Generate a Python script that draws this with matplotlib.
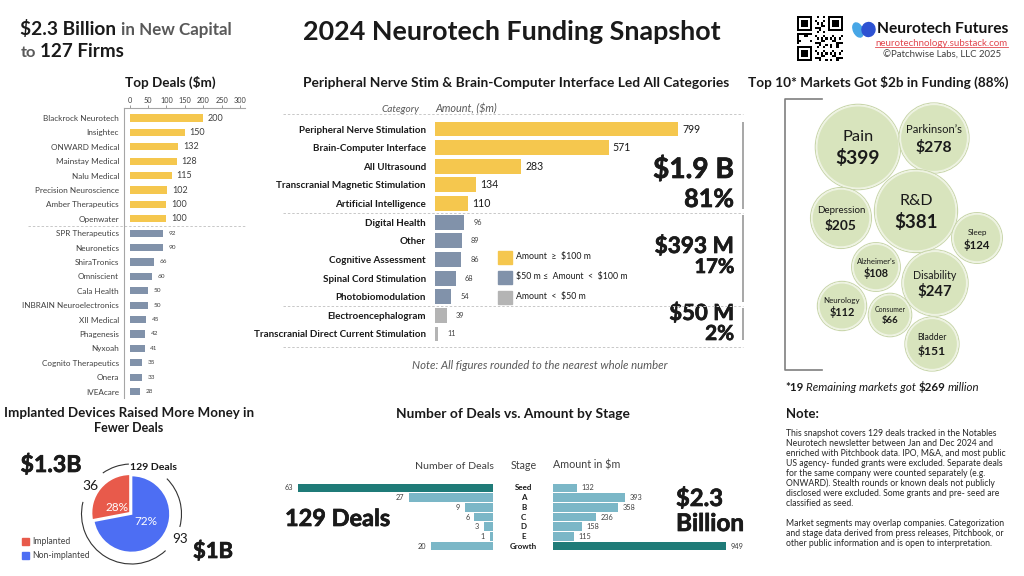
import numpy as np
import matplotlib.pyplot as plt
import matplotlib.patheffects as pe
from matplotlib.patches import Circle, Rectangle, Arc, Ellipse
from matplotlib import transforms

plt.rcParams['font.family'] = ['Lato', 'DejaVu Sans']

W, H = 1024, 576

# ---- data ----
deal_firms = ["Blackrock Neurotech", "Insightec", "ONWARD Medical", "Mainstay Medical",
              "Nalu Medical", "Precision Neuroscience", "Amber Therapeutics", "Openwater",
              "SPR Therapeutics", "Neuronetics", "ShiraTronics", "Omniscient", "Cala Health",
              "INBRAIN Neuroelectronics", "XII Medical", "Phagenesis", "Nyxoah",
              "Cognito Therapeutics", "Onera", "IVEAcare"]
deal_amounts = [200, 150, 132, 128, 115, 102, 100, 100, 92, 90, 66, 60, 50, 50, 45, 42, 41, 35, 33, 28]
deal_ticks = [0, 50, 100, 150, 200, 250, 300]

categories = ["Peripheral Nerve Stimulation", "Brain-Computer Interface", "All Ultrasound",
              "Transcranial Magnetic Stimulation", "Artificial Intelligence", "Digital Health",
              "Other", "Cognitive Assessment", "Spinal Cord Stimulation", "Photobiomodulation",
              "Electroencephalogram", "Transcranial Direct Current Stimulation"]
cat_amounts = [799, 571, 283, 134, 110, 96, 89, 86, 68, 54, 39, 11]
tier_labels = ["Amount  \u2265  \\$100 m", "\\$50 m \u2264  Amount  <  \\$100 m", "Amount  <  \\$50 m"]

markets = ["Pain", "Parkinson\u2019s", "R&D", "Depression", "Sleep", "Alzheimer\u2019s",
           "Disability", "Neurology", "Consumer", "Bladder"]
market_amounts = [399, 278, 381, 205, 124, 108, 247, 112, 66, 151]
other_markets = 19
other_amount = 269

device_groups = ["Implanted", "Non-implanted"]
device_share = [28, 72]
device_deals = [36, 93]
device_money = ["$1.3B", "$1B"]

stages = ["Seed", "A", "B", "C", "D", "E", "Growth"]
stage_deals = [63, 27, 9, 6, 3, 1, 20]
stage_amounts = [132, 393, 358, 236, 158, 115, 949]

note_lines = [
    "This snapshot covers 129 deals tracked in the Notables",
    "Neurotech newsletter between Jan and Dec 2024 and",
    "enriched with Pitchbook data. IPO, M&A, and most public",
    "US agency- funded grants were excluded. Separate deals",
    "for the same company were counted separately (e.g.",
    "ONWARD). Stealth rounds or known deals not publicly",
    "disclosed were excluded. Some grants and pre- seed are",
    "classified as seed.",
    "",
    "Market segments may overlap companies. Categorization",
    "and stage data derived from press releases, Pitchbook, or",
    "other public information and is open to interpretation.",
]

YELLOW = '#f5c74e'
SLATE = '#8192aa'
GREY = '#b4b4b4'
TEAL = '#1f7b78'
LTEAL = '#7bb7c7'
DARK = '#1a1a1a'
MID = '#404040'
RED = '#e85a4b'
BLUE = '#4d6ef3'
BUBBLE = '#d8e4bd'
THICK = [pe.withStroke(linewidth=0.5, foreground=DARK)]

fig = plt.figure(figsize=(10.24, 5.76), dpi=100)
renderer = fig.canvas.get_renderer()
bg = fig.add_axes([0, 0, 1, 1])
bg.set_xlim(0, W)
bg.set_ylim(H, 0)
bg.axis('off')


def put(x, y, s, size=8, width=None, **kw):
    kw.setdefault('va', 'baseline')
    kw.setdefault('color', DARK)
    t = bg.text(x, y, s, fontsize=size, **kw)
    if width:
        w = t.get_window_extent(renderer).width
        t.set_fontsize(size * width / w)
    return t


def big_num(x, y, s, width, **kw):
    return put(x, y, s, 20, width=width, fontweight='bold', path_effects=THICK, **kw)


def right_edge(t):
    ext = t.get_window_extent(renderer)
    return bg.transData.inverted().transform((ext.x1, ext.y0))[0]


def px_axes(left, top, right, bottom):
    a = fig.add_axes([left / W, 1 - bottom / H, (right - left) / W, (bottom - top) / H])
    a.patch.set_alpha(0)
    return a


# ---- header ----
t = put(20.5, 35, "$2.3 Billion", 14, width=97, fontweight='bold')
put(right_edge(t) + 4, 35, "in New Capital", 11, width=111, fontweight='bold', color='#595959')
t = put(20.5, 57, "to", 11, width=15.5, fontweight='bold', color='#595959')
put(right_edge(t) + 4, 57, "127 Firms", 14, width=84.5, fontweight='bold')
put(303, 40.5, "2024 Neurotech Funding Snapshot", 19, width=417, fontweight='bold')

# QR code (decoration)
n = 21
qr = np.zeros((n, n))
for i in range(n):
    for j in range(n):
        qr[i, j] = 1 if (i * 3 + j * 5 + (i * j) % 7) % 3 == 0 else 0
for (r0, c0) in [(0, 0), (0, n - 7), (n - 7, 0)]:
    qr[max(r0 - 1, 0):r0 + 8, max(c0 - 1, 0):c0 + 8] = 0
    qr[r0:r0 + 7, c0:c0 + 7] = 1
    qr[r0 + 1:r0 + 6, c0 + 1:c0 + 6] = 0
    qr[r0 + 2:r0 + 5, c0 + 2:c0 + 5] = 1
bg.imshow(qr, cmap='gray_r', extent=(797, 843, 61, 16), aspect='auto', interpolation='nearest')
bg.set_xlim(0, W)
bg.set_ylim(H, 0)

# logo
bg.add_patch(Ellipse((858, 30), 9, 15, angle=-25, color='#47a6e6'))
bg.add_patch(Ellipse((868.5, 29.5), 13, 14, angle=10, color='#2d52d2'))
put(877, 33, "Neurotech Futures", 11, width=131, fontweight='bold', color='#111111')
put(875, 45.5, "neurotechnology.substack.com", 7, width=133, color='#e2474f')
bg.plot([875, 1008], [47, 47], color='#e2474f', lw=0.6)
put(883, 58, "\u00a9Patchwise Labs, LLC 2025", 7, width=119, color=MID)

# ---- Top deals ----
put(170.5, 87, "Top Deals ($m)", 9, width=90, fontweight='bold', ha='center')
ax = px_axes(124, 108, 245, 398)
y = np.arange(len(deal_firms))
big = [v >= 100 for v in deal_amounts]
ax.barh(y, deal_amounts, height=0.5, color=[YELLOW if b else SLATE for b in big])
ax.set_xlim(-15, 313.6)
ax.set_ylim(len(deal_firms) - 0.55, -0.7)
ax.xaxis.tick_top()
ax.set_xticks(deal_ticks)
ax.tick_params(axis='x', labelsize=5.3, length=2.2, width=0.6, color='#8c8c8c', pad=0.8,
               labelcolor=MID)
ax.set_yticks(y, deal_firms)
ax.tick_params(axis='y', length=0, labelsize=5.9, pad=3.6, labelcolor=MID)
for s in ['right', 'bottom']:
    ax.spines[s].set_visible(False)
for s in ['top', 'left']:
    ax.spines[s].set_color('#a6a6a6')
    ax.spines[s].set_linewidth(0.8)
for yi, v, b in zip(y, deal_amounts, big):
    ax.annotate(str(v), (v, yi), xytext=(3.5 if b else 4, 0), textcoords='offset points',
                va='center', fontsize=6.5 if b else 4.6, color=MID)
ax.axhline(7.5, xmin=(28 - 124) / 121, xmax=1.0, ls=(0, (2.5, 2)), color='#c8c8c8', lw=0.7,
           clip_on=False)

# ---- Categories ----
put(303, 87, "Peripheral Nerve Stim & Brain-Computer Interface Led All Categories", 8.5,
    width=424, fontweight='bold')
put(419, 112, "Category", 7, width=38, ha='right', style='italic', color='#595959')
put(435, 112, "Amount, ($m)", 7, width=62, style='italic', color='#595959')

ax = px_axes(435, 114, 743, 347)
y = np.arange(len(categories))
tier = [0 if v >= 100 else (1 if v >= 50 else 2) for v in cat_amounts]
tier_colors = [YELLOW, SLATE, GREY]
ax.barh(y, cat_amounts, height=0.8, color=[tier_colors[k] for k in tier])
ax.set_xlim(0, 1012.8)
ax.set_ylim(11.7, -0.806)
ax.set_yticks(y, categories, fontweight='bold')
ax.tick_params(axis='y', length=0, labelsize=7.1, pad=6.6, labelcolor=DARK)
ax.set_xticks([])
for s in ax.spines.values():
    s.set_visible(False)
for yi, v, k in zip(y, cat_amounts, tier):
    ax.annotate(str(v), (v, yi), xytext=(3 if k == 0 else 6.5, 0), textcoords='offset points',
                va='center', fontsize=7.6 if k == 0 else 5.3, color=DARK if k == 0 else MID)
for yv in [-0.806, 4.5, 9.5, 11.7]:
    ax.axhline(yv, xmin=(283 - 435) / 308, xmax=1.0, ls=(0, (2.5, 2)), color='#c8c8c8', lw=0.7,
               clip_on=False)

total = sum(cat_amounts)
tier_y = [(178, 207), (253, 273), (320, 340)]
tier_w = [(81, 50), (79, 40), (65, 29)]
for k in range(3):
    rows = [i for i in y if tier[i] == k]
    ax.vlines(1011.8, rows[0] - 0.38, rows[-1] + 0.3, color='#a0a0a0', lw=1.3, clip_on=False)
    amt = sum(cat_amounts[i] for i in rows)
    label = f"${amt / 1000:.1f} B" if amt >= 1000 else f"${amt} M"
    pct = f"{round(100 * amt / total)}%"
    big_num(734, tier_y[k][0], label, tier_w[k][0], ha='right', zorder=5)
    big_num(734, tier_y[k][1], pct, tier_w[k][1], ha='right', zorder=5)

for k, lab in enumerate(tier_labels):
    cy = 257 + 20 * k
    bg.add_patch(Rectangle((498, cy - 6.5), 14, 13, color=tier_colors[k]))
    put(516, cy, lab, 6.3, va='center', color=DARK)

put(540, 369, "Note: All figures rounded to the nearest whole number", 7.5, width=255,
    ha='center', style='italic', color='#595959')

# ---- Bubbles ----
put(748, 87, "Top 10* Markets Got $2b in Funding (88%)", 8.5, width=260, fontweight='bold')
bg.plot([822, 785, 785, 822], [99, 99, 370, 370], color='#7f7f7f', lw=1.2)
centers = [(858, 147), (934, 138), (916, 211), (841, 218), (977, 238), (876, 267),
           (935, 283), (842, 306), (890, 315), (932, 344)]
for (cx, cy), name, v in zip(centers, markets, market_amounts):
    r = 17 + 0.063 * v
    bg.add_patch(Circle((cx, cy), r + 0.6, facecolor='none', edgecolor='#c9d6ab', lw=0.8))
    bg.add_patch(Circle((cx, cy), r - 0.8, facecolor=BUBBLE, edgecolor='#eef3e2', lw=1.2))
    nfs = 0.28 * r if r > 38 else 0.235 * r
    bg.text(cx, cy - 0.24 * r, name, fontsize=nfs, ha='center', va='center', color=DARK)
    bg.text(cx, cy + 0.27 * r, f"${v}", fontsize=0.33 * r, ha='center', va='center',
            fontweight='bold', color=DARK)

t = put(785, 391, f"*{other_markets}", 8.3, fontweight='bold')
t = put(right_edge(t) + 2.5, 391, "Remaining markets got", 8.3, style='italic')
t = put(right_edge(t) + 2.5, 391, f"${other_amount}", 8.3, fontweight='bold')
put(right_edge(t) + 2.5, 391, "million", 8.3, style='italic')

# ---- Pie ----
put(129, 417, "Implanted Devices Raised More Money in", 9, width=248, ha='center', fontweight='bold')
put(129, 432, "Fewer Deals", 9, ha='center', fontweight='bold')
pc = (131.5, 514)
R = 38.5
pax = px_axes(pc[0] - 60, pc[1] - 60, pc[0] + 60, pc[1] + 60)
lim = 60 / R
pax.pie(device_share, colors=[RED, BLUE], startangle=90, explode=[0.05, 0],
        wedgeprops=dict(edgecolor='white', lw=1.2))
pax.set_xlim(-lim, lim)
pax.set_ylim(-lim, lim)
pax.set_aspect('equal')
pax.axis('off')
start = 90
for frac, dy in zip(device_share, [-0.15, 0.13]):
    a = np.deg2rad(start + 1.8 * frac)
    start += 3.6 * frac
    pax.text(0.5 * np.cos(a), 0.5 * np.sin(a) + dy, f"{frac}%",
             ha='center', va='center', color='white', fontsize=8.5)
rr = 50 / R
for t1, t2 in [(93, 125), (166, 313), (-15, 45)]:
    pax.add_patch(Arc((0, 0), 2 * rr, 2 * rr, theta1=t1, theta2=t2, color='#333333', lw=0.8))

big_num(20.5, 472, device_money[0], 61)
big_num(193, 558, device_money[1], 40)
put(82, 490.5, str(device_deals[0]), 12, width=16)
put(172, 543, str(device_deals[1]), 12, width=15.5)
put(130, 470, f"{sum(device_deals)} Deals", 7, width=47, fontweight='bold')
for k, (g, c) in enumerate(zip(device_groups, [RED, BLUE])):
    cy = 541.5 + 13.5 * k
    bg.add_patch(Rectangle((21.5, cy - 3.5), 7, 7, color=c))
    put(32, cy, g, 6.2, va='center', color=MID)

# ---- Stages ----
put(513, 418, "Number of Deals vs. Amount by Stage", 8.5, width=232, ha='center', fontweight='bold')
put(494, 469, "Number of Deals", 7.5, width=78, ha='right', color=MID)
put(523.5, 469, "Stage", 7.5, width=26, ha='center', color=MID)
put(553, 469, "Amount in $m", 7.5, width=67, color=MID)

y = np.arange(len(stages))
axL = px_axes(283, 483, 493, 552)
axR = px_axes(553, 483, 740, 552)
for a, vals, xl in [(axL, stage_deals, (67.85, 0)), (axR, stage_amounts, (0, 1025.8))]:
    top = int(np.argmax(vals))
    a.barh(y, vals, height=0.9, color=[TEAL if i == top else LTEAL for i in y])
    a.set_xlim(*xl)
    a.set_ylim(6.61, -0.51)
    a.axis('off')
    for yi, v in zip(y, vals):
        a.annotate(str(v), (v, yi), xytext=(-3.5 if a is axL else 3.5, 0),
                   textcoords='offset points', va='center',
                   ha='right' if a is axL else 'left', fontsize=5.3, color=MID)
blend = transforms.blended_transform_factory(bg.transData, axL.transData)
for yi, s in zip(y, stages):
    bg.text(523.5, yi, s, transform=blend, ha='center', va='center', fontsize=5.8,
            fontweight='bold', color=DARK)

big_num(285, 526, f"{sum(stage_deals)} Deals", 105)
big_num(676, 506, f"${sum(stage_amounts) / 1000:.1f}", 47)
big_num(676, 531, "Billion", 68)

# ---- Note ----
put(786, 418, "Note:", 10, width=33, fontweight='bold')
t = put(786, 436, note_lines[0], 6, width=210, color='#262626')
nfs = t.get_fontsize()
for k, line in enumerate(note_lines[1:], start=1):
    put(786, 436 + 10 * k, line, nfs, color='#262626')

fig.savefig('out.png', dpi=100, facecolor='white')
